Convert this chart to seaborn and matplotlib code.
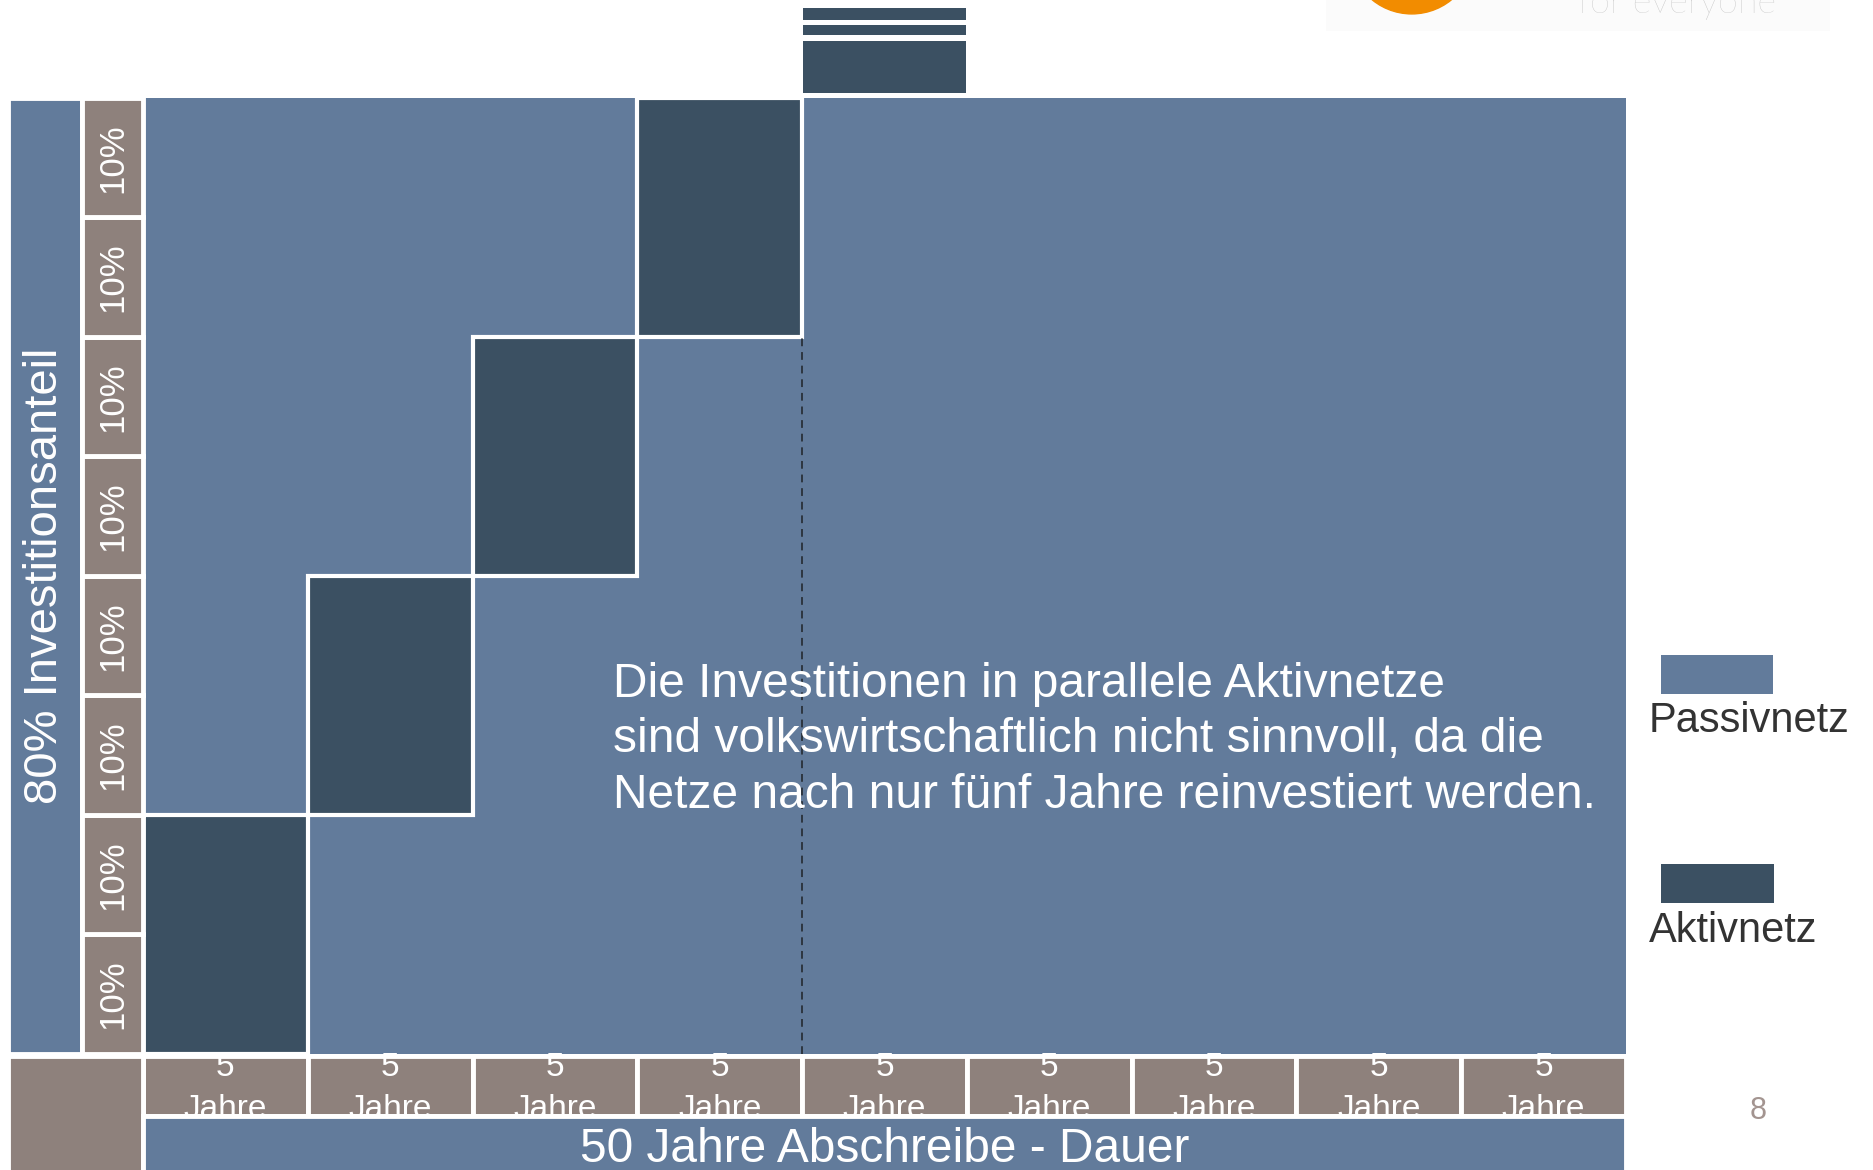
import numpy as np
import matplotlib
matplotlib.use("Agg")
import matplotlib.pyplot as plt
from matplotlib.colors import ListedColormap
from matplotlib.patches import Ellipse
from matplotlib.transforms import TransformedBbox
import seaborn as sns

sns.set_style("white")
plt.rcParams['font.family'] = ['Liberation Sans', 'DejaVu Sans']

# data
periods = ['5\nJahre'] * 9            # 9 columns of 5 years each
shares = ['10%'] * 8                   # 8 rows of 10 % investment share
active_period = [0, 1, 2, 3]           # column of each active-net block
active_row = [0, 2, 4, 6]              # first row of each active-net block
block_rows = 2
top_period = 4                         # the block sticking out above the chart
top_bottom = [8.04, 8.53, 8.65]
top_height = [0.44, 0.08, 0.10]
share_label = '80% Investitionsanteil'
duration_label = '50 Jahre Abschreibe - Dauer'
note = ('Die Investitionen in parallele Aktivnetze\n'
        'sind volkswirtschaftlich nicht sinnvoll, da die\n'
        'Netze nach nur fünf Jahre reinvestiert werden.')
legend_labels = ['Passivnetz', 'Aktivnetz']
page = '8'

passive_c = '#627b9b'
active_c = '#3b5062'
brown_c = '#8e817c'

n_cols = len(periods)
n_rows = len(shares)
grid = np.zeros((n_rows, n_cols))
for c, r in zip(active_period, active_row):
    grid[r:r + block_rows, c] = 1

fig = plt.figure(figsize=(18.74, 11.70), dpi=100)
ax = fig.add_axes([0, 0, 1, 1])

sns.heatmap(grid, cmap=ListedColormap([passive_c, active_c]), cbar=False,
            linewidths=0, ax=ax, vmin=0, vmax=1)
ax.set_xlim(-0.868, 10.505)
ax.set_ylim(-0.971, 8.82)
ax.axis('off')

edge = dict(edgecolor='white', linewidth=3.5)

# active blocks with white outline
ax.bar([c + 0.5 for c in active_period], block_rows, bottom=active_row, width=1,
       color=active_c, edgecolor='white', linewidth=3)
ax.bar([top_period + 0.5] * len(top_bottom), top_height, bottom=top_bottom,
       width=0.99, color=active_c, linewidth=0)
ax.vlines(active_period[-1] + 1, 0, active_row[-1], colors='#2d3640',
          linestyles=(0, (4, 3)), linewidth=1.4)

# left share columns
ax.bar(-0.595, n_rows, bottom=0, width=0.45, color=passive_c, **edge)
ax.text(-0.595, n_rows / 2, share_label, rotation=90, ha='center', va='center',
        color='white', fontsize=34)
ax.bar([-0.185] * n_rows, 1, bottom=np.arange(n_rows), width=0.37,
       color=brown_c, **edge)
for i, s in enumerate(shares):
    ax.text(-0.185, i + 0.5, s, rotation=90, ha='center', va='center',
            color='white', fontsize=25)

# bottom period row, labels clipped to their cells like on the slide
bars = ax.bar(np.arange(n_cols) + 0.5, 0.5, bottom=-0.52, width=1,
              color=brown_c, **edge)
for i, (p, b) in enumerate(zip(periods, bars)):
    bb = b.get_bbox()
    bb = bb.from_extents(bb.x0, bb.y0 + 0.025, bb.x1, bb.y1 - 0.015)
    ax.text(i + 0.5, -0.29, p, ha='center', va='center', color='white',
            fontsize=24, linespacing=1.45,
            clip_box=TransformedBbox(bb, ax.transData), clip_on=True)
ax.bar(-0.41, 1.3, bottom=-1.32, width=0.82, color=brown_c, **edge)
ax.bar(n_cols / 2, 0.8, bottom=-1.32, width=n_cols, color=passive_c, **edge)
ax.text(n_cols / 2, -0.80, duration_label, ha='center', va='center',
        color='white', fontsize=34.5)

# note
ax.text(2.85, 2.63, note, ha='left', va='center', color='white',
        fontsize=34.5, linespacing=1.3)

# legend
ax.bar(9.55, 0.33, bottom=3.01, width=0.68, color=passive_c, linewidth=0)
ax.text(9.14, 2.79, legend_labels[0], ha='left', va='center',
        color='#333333', fontsize=30)
ax.bar(9.555, 0.33, bottom=1.26, width=0.69, color=active_c, linewidth=0)
ax.text(9.14, 1.03, legend_labels[1], ha='left', va='center',
        color='#333333', fontsize=30)

# page number
ax.text(9.80, -0.48, page, ha='center', va='center', color='#a39490',
        fontsize=22)

# cut-off logo at the top right
ax.bar(8.71, 0.4, bottom=8.56, width=3.06, color='#fbfbfb', linewidth=0)
ax.add_patch(Ellipse((7.70, 9.228), 0.761, 1.049, color='#f28c00'))
ax.text(8.708, 8.711, 'for everyone', ha='left', va='baseline',
        color='#c2c2c2', fontsize=26, family=['Lato', 'DejaVu Sans'],
        fontweight='light')

fig.savefig('out.png', dpi=100)
